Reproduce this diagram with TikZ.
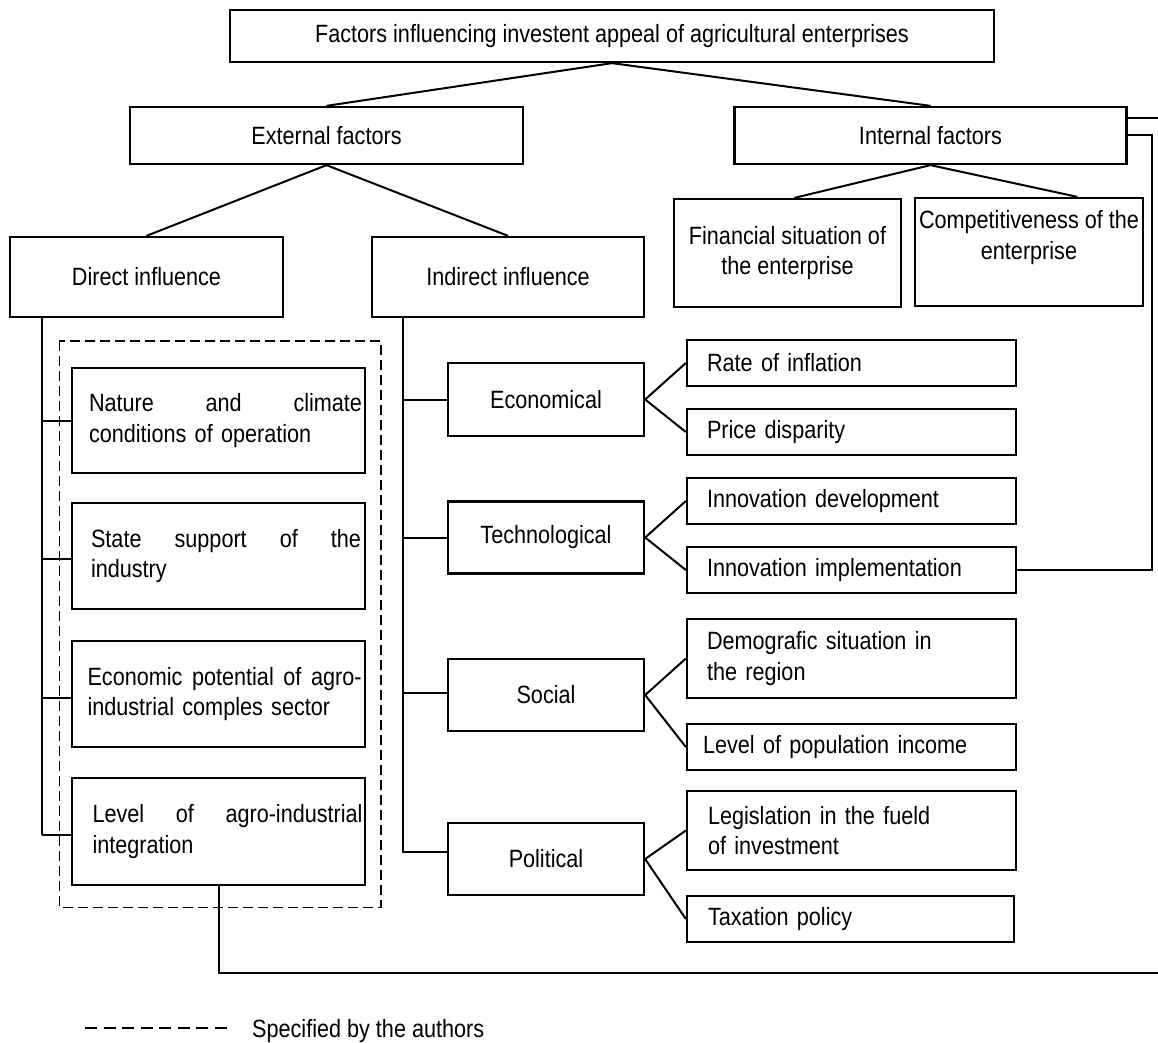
\documentclass[tikz,border=0pt]{standalone}
\usepackage{fontspec}
\setmainfont{Liberation Sans}[FakeStretch=0.865]
\usetikzlibrary{calc}
\begin{document}
\begin{tikzpicture}[x=1pt,y=-1pt,
  txt/.style={font=\fontsize{25}{30.7}\selectfont, inner sep=0pt},
  box/.style={txt, draw, line width=2.3pt, align=center},
  wh/.style 2 args={minimum width=#1, minimum height=#2},
  lefttext/.style={txt, anchor=west, align=left, text width=#1},
  link/.style={line width=2pt},
  groupline/.style={line width=1.6pt, dash pattern=on 10pt off 5pt},
  legendline/.style={line width=1.6pt, dash pattern=on 12pt off 6.5pt}]
\useasboundingbox (0,0) rectangle (1158,1043);

% --- top levels ---
\node[box, wh={764}{52}] (top) at (612,36) {Factors influencing investent appeal of agricultural enterprises};
\node[box, wh={393}{57}] (ext) at (326.5,135.5) {External factors};
\node[box, wh={392}{57}] (int) at (930.5,135.5) {Internal factors};

% --- internal factors ---
\node[box, wh={227}{108}] (fin) at (787.5,253) {Financial situation of\\the enterprise};
\node[box, wh={228}{108}] (comp) at (1029,252) {};
\node[txt, align=center] (compT) at ([yshift=14.5]comp.center) {Competitiveness of the\\enterprise};

% --- external factors ---
\node[box, wh={273}{80}] (direct) at (146.5,277) {Direct influence};
\node[box, wh={272}{80}] (indirect) at (508,277) {Indirect influence};

% direct influence group (first lines justified to the full width)
\node[box, wh={293}{105}] (nat) at (218.5,420.5) {};
\node[lefttext=273pt] (natT) at ([xshift=18]nat.west) {\makebox[273pt][l]{Nature\hfill and\hfill climate}\\conditions of operation};
\node[box, wh={293}{106}] (state) at (218.5,556) {};
\node[lefttext=270pt] (stateT) at ([xshift=20]state.west) {\makebox[270pt][l]{State\hfill support\hfill of\hfill the}\\industry};
\node[box, wh={293}{106}] (epot) at (218.5,694) {};
\node[lefttext=274pt] (epotT) at ([xshift=16.5]epot.west) {\makebox[274pt][l]{Economic\hfill potential\hfill of\hfill agro-}\\industrial comples sector};
\node[box, wh={293}{107}] (level) at (218.5,831.5) {};
\node[lefttext=270pt] (levelT) at ([xshift=21.5]level.west) {\makebox[270pt][l]{Level\hfill of\hfill agro-industrial}\\integration};

% indirect influence categories
\node[box, wh={196}{73}] (econ) at (546,399.5) {Economical};
\node[box, wh={196}{72}] (tech) at (546,537.5) {Technological};
\node[box, wh={196}{72}] (social) at (546,695) {Social};
\node[box, wh={196}{72}] (pol) at (546,859) {Political};

% leaves
\node[box, wh={329}{46}] (rate) at (851.5,363) {};
\node[lefttext=290pt] (rateT) at ([xshift=21]rate.west) {Rate of inflation};
\node[box, wh={329}{46}] (price) at (851.5,432) {};
\node[lefttext=290pt] (priceT) at ([xshift=21]price.west) {Price disparity};
\node[box, wh={329}{46}] (idev) at (851.5,501) {};
\node[lefttext=290pt] (idevT) at ([xshift=21]idev.west) {Innovation development};
\node[box, wh={329}{46}] (iimp) at (851.5,570) {};
\node[lefttext=290pt] (iimpT) at ([xshift=21]iimp.west) {Innovation implementation};
\node[box, wh={329}{79}] (demo) at (851.5,658.5) {};
\node[lefttext=290pt] (demoT) at ([xshift=21]demo.west) {Demografic situation in\\the region};
\node[box, wh={329}{46}] (income) at (851.5,747) {};
\node[lefttext=300pt] (incomeT) at ([xshift=17]income.west) {Level of population income};
\node[box, wh={329}{79}] (legis) at (851.5,830.5) {};
\node[lefttext=290pt] (legisT) at ([xshift=22]legis.west) {Legislation in the fueld\\of investment};
\node[box, wh={327}{46}] (tax) at (850.5,919) {};
\node[lefttext=290pt] (taxT) at ([xshift=22]tax.west) {Taxation policy};

% --- connectors ---
\draw[link] (top.south) -- (ext.north);
\draw[link] (top.south) -- (int.north);
\draw[link] (int.south) -- ($(fin.north west)!0.53!(fin.north east)$);
\draw[link] (int.south) -- ($(comp.north west)!0.71!(comp.north east)$);
\draw[link] (ext.south) -- (direct.north);
\draw[link] (ext.south) -- (indirect.north);

% direct influence trunk
\coordinate (dtr) at (41.7,0);
\coordinate (natin) at (nat.west);
\coordinate (statein) at ($(state.west)+(0,3)$);
\coordinate (epotin) at ($(epot.west)+(0,3.5)$);
\coordinate (levelin) at ($(level.west)+(0,3.5)$);
\draw[link] (direct.south -| dtr) -- (levelin -| dtr);
\foreach \b in {natin,statein,epotin,levelin}
  \draw[link] (\b -| dtr) -- (\b);

% indirect influence trunk
\coordinate (itr) at (403,0);
\coordinate (econin) at (econ.west);
\coordinate (techin) at (tech.west);
\coordinate (socialin) at ($(social.west)+(0,-2.5)$);
\coordinate (polin) at ($(pol.west)+(0,-7)$);
\draw[link] (indirect.south -| itr) -- (polin -| itr) -- (polin);
\foreach \b in {econin,techin,socialin}
  \draw[link] (\b -| itr) -- (\b);

% fans to leaves
\foreach \c/\l in {econ/rate,econ/price,tech/idev,tech/iimp,social/demo,social/income,pol/legis,pol/tax}
  \draw[link] (\c.east) -- (\l.west);

% links running to the right margin
\coordinate (edgeA) at (1158,118);
\coordinate (edgeB) at (1158,973);
\coordinate (bend) at (1152,0);
\draw[link] (int.east |- edgeA) -- (edgeA);
\draw[link] (iimp.east) -- (iimp.east -| bend) -- (int.east -| bend) -- (int.east);
\draw[link] (level.south) -- (level.south |- edgeB) -- (edgeB);

% group of factors specified by the authors
\draw[groupline] (59.3,340.7) rectangle (380.7,907.3);

% legend
\coordinate (legA) at (85,1028);
\coordinate (legB) at (227,1028);
\draw[legendline] (legA) -- (legB);
\node[txt, anchor=west] (legend) at (252,1031) {Specified by the authors};
\end{tikzpicture}
\end{document}
